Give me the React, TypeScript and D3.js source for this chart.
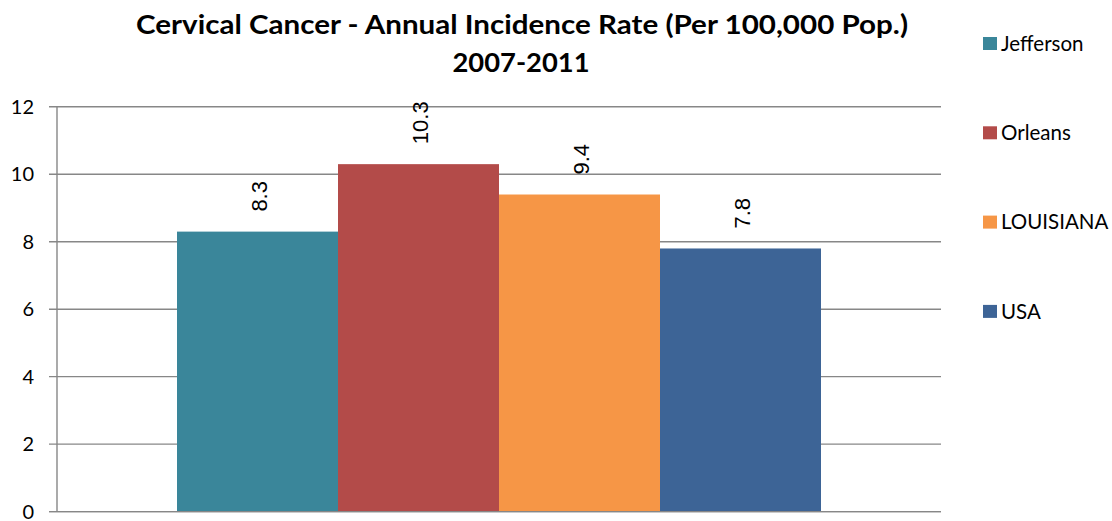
import React from "react";
import * as d3 from "d3";

const series = ["Jefferson", "Orleans", "LOUISIANA", "USA"];
const values = [8.3, 10.3, 9.4, 7.8];
const colors = ["#3A869A", "#B34B49", "#F69646", "#3D6496"];
const yTicks = [0, 2, 4, 6, 8, 10, 12];
const titleLines = ["Cervical Cancer - Annual Incidence Rate (Per 100,000 Pop.)", "2007-2011"];

const W = 1112;
const H = 521;
const plotLeft = 57;
const plotRight = 941;
const plotTop = 106.8;
const plotBottom = 511.6;
const gridColor = "#878787";
const calibri = "Lato, 'Open Sans', sans-serif";

export default function App() {
  const y = d3.scaleLinear().domain([0, 12]).range([plotBottom, plotTop]);
  const plotW = plotRight - plotLeft;
  const groupPad = (plotW - 644) / 2;
  const x = d3
    .scaleBand<string>()
    .domain(series)
    .range([plotLeft + groupPad, plotRight - groupPad])
    .padding(0);

  return (
    <svg width={W} height={H} style={{ position: "absolute", left: 0, top: 0, background: "#fff" }}>
      <rect x={0} y={0} width={W} height={H} fill="#fff" />
      {/* title */}
      <text x={522} y={34} textAnchor="middle" fontFamily={calibri} fontWeight="bold" fontSize={26.5}
        textLength={772} lengthAdjust="spacingAndGlyphs" fill="#000">
        {titleLines[0]}
      </text>
      <text x={521} y={72} textAnchor="middle" fontFamily={calibri} fontWeight="bold" fontSize={26.5}
        textLength={137} lengthAdjust="spacingAndGlyphs" fill="#000">
        {titleLines[1]}
      </text>
      {/* gridlines */}
      {yTicks.map((t) => (
        <line key={t} x1={49} x2={plotRight} y1={y(t)} y2={y(t)} stroke={gridColor} strokeWidth={1.4} />
      ))}
      {/* bars */}
      {series.map((s, i) => (
        <rect key={s} x={x(s)} y={y(values[i])} width={x.bandwidth()} height={y(0) - y(values[i])} fill={colors[i]} />
      ))}
      {/* axis */}
      <line x1={plotLeft} x2={plotLeft} y1={plotTop} y2={plotBottom} stroke={gridColor} strokeWidth={1.4} />
      <line x1={49} x2={plotRight} y1={y(0)} y2={y(0)} stroke={gridColor} strokeWidth={1.4} />
      {/* tick labels */}
      {yTicks.map((t) => (
        <text key={t} x={34} y={y(t)} dy="0.36em" textAnchor="end" fontFamily={calibri} fontSize={20} fill="#000">
          {t}
        </text>
      ))}
      {/* value labels */}
      {series.map((s, i) => {
        const cx = (x(s) as number) + x.bandwidth() / 2 + 2;
        const cy = y(values[i]) - 20;
        return (
          <text key={s} transform={`translate(${cx},${cy}) rotate(-90)`} dy="0.36em"
            fontFamily="'Liberation Sans', Arial, sans-serif" fontSize={22} fill="#000">
            {values[i].toFixed(1)}
          </text>
        );
      })}
      {/* legend */}
      {series.map((s, i) => {
        const ly = 43.5 + i * 89.3;
        return (
          <g key={s}>
            <rect x={983} y={ly - 6.5} width={14} height={13} fill={colors[i]} />
            <text x={1001} y={ly} dy="0.36em" fontFamily={calibri} fontSize={20.5} fill="#000">{s}</text>
          </g>
        );
      })}
    </svg>
  );
}
